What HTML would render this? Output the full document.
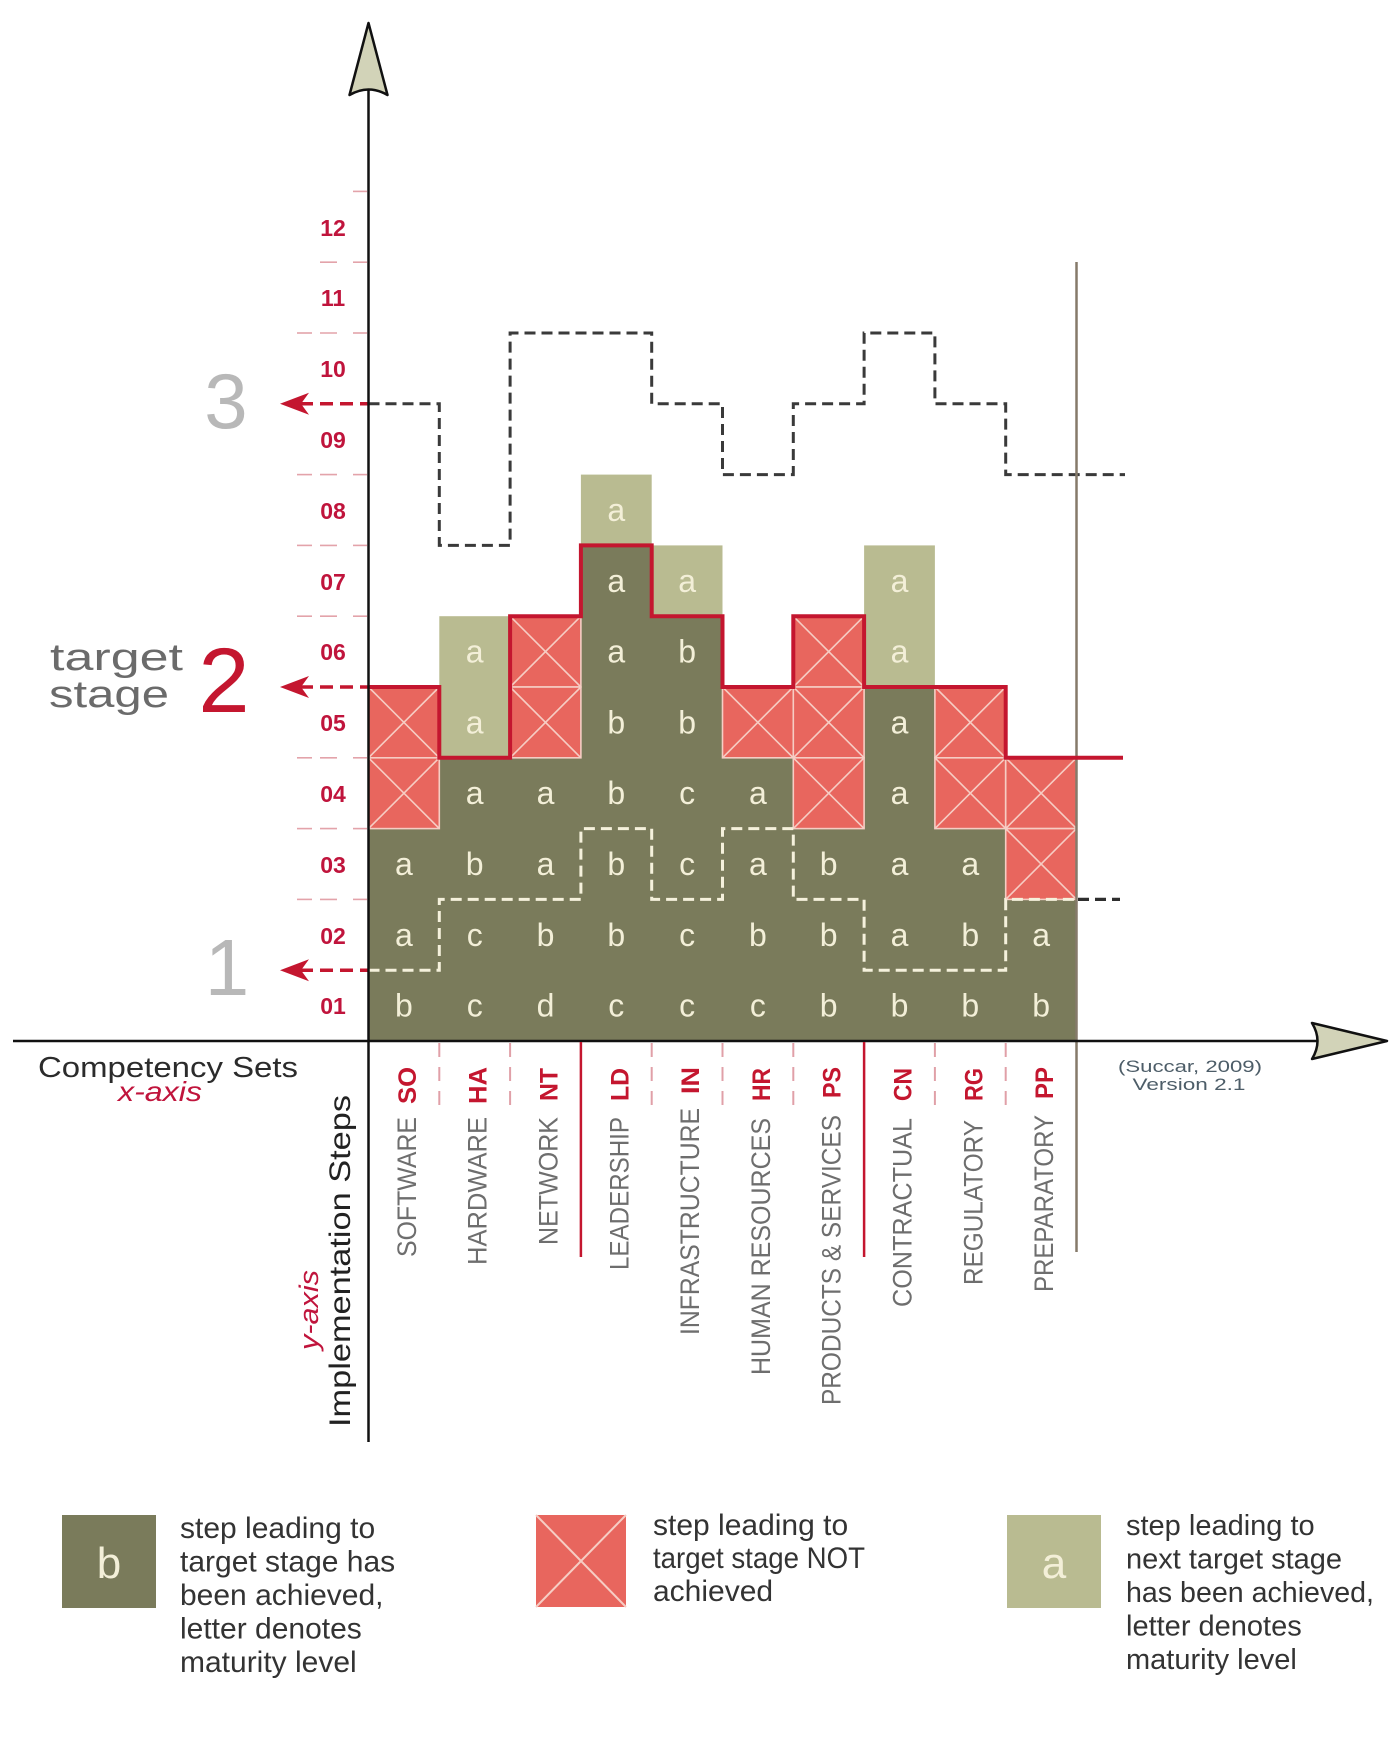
<!DOCTYPE html>
<html>
<head>
<meta charset="utf-8">
<style>
html,body{margin:0;padding:0;background:#fff;}
svg{display:block;}
text{font-family:"Liberation Sans",sans-serif;}
</style>
</head>
<body>
<svg width="1394" height="1757" viewBox="0 0 1394 1757" xmlns="http://www.w3.org/2000/svg">
<rect x="0" y="0" width="1394" height="1757" fill="#ffffff"/>

<!-- pink tick dashes left of y-axis -->
<g stroke="#e3a3aa" stroke-width="1.6">
  <line x1="353" y1="191.4" x2="367" y2="191.4"/>
  <line x1="320" y1="262.2" x2="337" y2="262.2"/><line x1="353" y1="262.2" x2="367" y2="262.2"/>
  <line x1="297" y1="333" x2="312" y2="333"/><line x1="320" y1="333" x2="337" y2="333"/><line x1="353" y1="333" x2="367" y2="333"/>
  <line x1="297" y1="474.6" x2="312" y2="474.6"/><line x1="320" y1="474.6" x2="337" y2="474.6"/><line x1="353" y1="474.6" x2="367" y2="474.6"/>
  <line x1="297" y1="545.4" x2="312" y2="545.4"/><line x1="320" y1="545.4" x2="337" y2="545.4"/><line x1="353" y1="545.4" x2="367" y2="545.4"/>
  <line x1="297" y1="616.2" x2="312" y2="616.2"/><line x1="320" y1="616.2" x2="337" y2="616.2"/><line x1="353" y1="616.2" x2="367" y2="616.2"/>
  <line x1="297" y1="757.8" x2="312" y2="757.8"/><line x1="320" y1="757.8" x2="337" y2="757.8"/><line x1="353" y1="757.8" x2="367" y2="757.8"/>
  <line x1="297" y1="828.6" x2="312" y2="828.6"/><line x1="320" y1="828.6" x2="337" y2="828.6"/><line x1="353" y1="828.6" x2="367" y2="828.6"/>
  <line x1="297" y1="899.4" x2="312" y2="899.4"/><line x1="320" y1="899.4" x2="337" y2="899.4"/><line x1="353" y1="899.4" x2="367" y2="899.4"/>
</g>

<!-- tick labels -->
<g font-weight="bold" font-size="23" fill="#c0143c" text-anchor="middle">
  <text x="333" y="236">12</text>
  <text x="333" y="306">11</text>
  <text x="333" y="377">10</text>
  <text x="333" y="448">09</text>
  <text x="333" y="519">08</text>
  <text x="333" y="590">07</text>
  <text x="333" y="660">06</text>
  <text x="333" y="731">05</text>
  <text x="333" y="802">04</text>
  <text x="333" y="873">03</text>
  <text x="333" y="944">02</text>
  <text x="333" y="1014">01</text>
</g>

<!-- olive region -->
<path d="M368.5,1041 V828.6 H439.3 V757.8 H580.9 V545.4 H651.7 V616.2 H722.5 V757.8 H793.3 V828.6 H864.1 V687 H934.9 V828.6 H1005.7 V899.4 H1076.5 V1041 Z" fill="#7a7b5b"/>

<!-- light cells -->
<g fill="#b9bb91">
  <rect x="439.3" y="616.2" width="70.8" height="141.6"/>
  <rect x="580.9" y="474.6" width="70.8" height="70.8"/>
  <rect x="651.7" y="545.4" width="70.8" height="70.8"/>
  <rect x="864.1" y="545.4" width="70.8" height="141.6"/>
</g>

<!-- red X cells -->
<defs>
  <g id="xc">
    <rect x="0" y="0" width="70.8" height="70.8" fill="#e8665e" stroke="#f6cdc4" stroke-width="1.6"/>
    <line x1="0" y1="0" x2="70.8" y2="70.8" stroke="#f6cdc4" stroke-width="1.6"/>
    <line x1="70.8" y1="0" x2="0" y2="70.8" stroke="#f6cdc4" stroke-width="1.6"/>
  </g>
</defs>
<use href="#xc" x="368.5" y="687"/>
<use href="#xc" x="368.5" y="757.8"/>
<use href="#xc" x="510.1" y="616.2"/>
<use href="#xc" x="510.1" y="687"/>
<use href="#xc" x="722.5" y="687"/>
<use href="#xc" x="793.3" y="616.2"/>
<use href="#xc" x="793.3" y="687"/>
<use href="#xc" x="793.3" y="757.8"/>
<use href="#xc" x="934.9" y="687"/>
<use href="#xc" x="934.9" y="757.8"/>
<use href="#xc" x="1005.7" y="757.8"/>
<use href="#xc" x="1005.7" y="828.6"/>

<!-- cell letters -->
<g font-size="32" fill="#f3efd8" text-anchor="middle">
  <text x="403.9" y="1016.6">b</text><text x="403.9" y="945.8">a</text><text x="403.9" y="875">a</text>
  <text x="474.7" y="1016.6">c</text><text x="474.7" y="945.8">c</text><text x="474.7" y="875">b</text><text x="474.7" y="804.2">a</text><text x="474.7" y="733.4">a</text><text x="474.7" y="662.6">a</text>
  <text x="545.5" y="1016.6">d</text><text x="545.5" y="945.8">b</text><text x="545.5" y="875">a</text><text x="545.5" y="804.2">a</text>
  <text x="616.3" y="1016.6">c</text><text x="616.3" y="945.8">b</text><text x="616.3" y="875">b</text><text x="616.3" y="804.2">b</text><text x="616.3" y="733.4">b</text><text x="616.3" y="662.6">a</text><text x="616.3" y="591.8">a</text><text x="616.3" y="521">a</text>
  <text x="687.1" y="1016.6">c</text><text x="687.1" y="945.8">c</text><text x="687.1" y="875">c</text><text x="687.1" y="804.2">c</text><text x="687.1" y="733.4">b</text><text x="687.1" y="662.6">b</text><text x="687.1" y="591.8">a</text>
  <text x="757.9" y="1016.6">c</text><text x="757.9" y="945.8">b</text><text x="757.9" y="875">a</text><text x="757.9" y="804.2">a</text>
  <text x="828.7" y="1016.6">b</text><text x="828.7" y="945.8">b</text><text x="828.7" y="875">b</text>
  <text x="899.5" y="1016.6">b</text><text x="899.5" y="945.8">a</text><text x="899.5" y="875">a</text><text x="899.5" y="804.2">a</text><text x="899.5" y="733.4">a</text><text x="899.5" y="662.6">a</text><text x="899.5" y="591.8">a</text>
  <text x="970.3" y="1016.6">b</text><text x="970.3" y="945.8">b</text><text x="970.3" y="875">a</text>
  <text x="1041.1" y="1016.6">b</text><text x="1041.1" y="945.8">a</text>
</g>

<!-- white dashed (stage 1) -->
<path d="M368.5,970.2 H439.3 V899.4 H580.9 V828.6 H651.7 V899.4 H722.5 V828.6 H793.3 V899.4 H864.1 V970.2 H1005.7 V899.4 H1076.5" fill="none" stroke="#f5f1dc" stroke-width="3" stroke-dasharray="11 6"/>
<line x1="1078" y1="899.4" x2="1120" y2="899.4" stroke="#2e2e2e" stroke-width="3.2" stroke-dasharray="11 6"/>

<!-- black dashed (stage 3) -->
<path d="M368.5,403.8 H439.3 V545.4 H510.1 V333 H651.7 V403.8 H722.5 V474.6 H793.3 V403.8 H864.1 V333 H934.9 V403.8 H1005.7 V474.6 H1125" fill="none" stroke="#3a3a3a" stroke-width="3" stroke-dasharray="11 6"/>

<!-- brown vertical -->
<line x1="1076.5" y1="262" x2="1076.5" y2="1252" stroke="#857a6a" stroke-width="2.5"/>

<!-- red line (stage 2) -->
<path d="M368.5,687 H439.3 V757.8 H510.1 V616.2 H580.9 V545.4 H651.7 V616.2 H722.5 V687 H793.3 V616.2 H864.1 V687 H1005.7 V757.8 H1123" fill="none" stroke="#c4162f" stroke-width="4" stroke-linejoin="miter"/>

<!-- red dashed arrows -->
<g stroke="#c4162f" stroke-width="3.5" stroke-dasharray="13 7">
  <line x1="300" y1="403.8" x2="368" y2="403.8"/>
  <line x1="300" y1="687" x2="368" y2="687"/>
  <line x1="300" y1="970.2" x2="368" y2="970.2"/>
</g>
<g fill="#c4162f">
  <path d="M280,403.8 L309,392.8 L301,403.8 L309,414.8 Z"/>
  <path d="M280,687 L309,676 L301,687 L309,698 Z"/>
  <path d="M280,970.2 L309,959.2 L301,970.2 L309,981.2 Z"/>
</g>

<!-- stage numbers -->
<text x="226" y="428" font-size="78" fill="#b8b8b8" text-anchor="middle">3</text>
<text x="224" y="712" font-size="92" fill="#c4162f" text-anchor="middle">2</text>
<text x="227" y="995" font-size="80" fill="#b8b8b8" text-anchor="middle">1</text>
<text x="50" y="670" font-size="38" fill="#6b6b6b" textLength="133" lengthAdjust="spacingAndGlyphs">target</text>
<text x="49" y="707" font-size="38" fill="#6b6b6b" textLength="120" lengthAdjust="spacingAndGlyphs">stage</text>

<!-- axes -->
<line x1="368.5" y1="90" x2="368.5" y2="1442" stroke="#111" stroke-width="2.5"/>
<line x1="13" y1="1041" x2="1318" y2="1041" stroke="#111" stroke-width="2.5"/>
<path d="M368.5,23 L387.5,95 Q368.5,84 349.5,95 Z" fill="#d2d3b8" stroke="#111" stroke-width="2.5" stroke-linejoin="round"/>
<path d="M1387,1041 L1312,1059 Q1323,1041 1312,1023 Z" fill="#d2d3b8" stroke="#111" stroke-width="2.5" stroke-linejoin="round"/>

<!-- separators below x-axis -->
<g stroke="#c4162f" stroke-width="2.5">
  <line x1="580.9" y1="1042" x2="580.9" y2="1257"/>
  <line x1="864.1" y1="1042" x2="864.1" y2="1257"/>
</g>
<g stroke="#e0a0a8" stroke-width="2" stroke-dasharray="14 10">
  <line x1="439.3" y1="1043" x2="439.3" y2="1112"/>
  <line x1="510.1" y1="1043" x2="510.1" y2="1112"/>
  <line x1="651.7" y1="1043" x2="651.7" y2="1112"/>
  <line x1="722.5" y1="1043" x2="722.5" y2="1112"/>
  <line x1="793.3" y1="1043" x2="793.3" y2="1112"/>
  <line x1="934.9" y1="1043" x2="934.9" y2="1112"/>
  <line x1="1005.7" y1="1043" x2="1005.7" y2="1112"/>
</g>

<!-- column labels -->
<g font-size="27" fill="#6e6e6e">
  <text transform="translate(416,1257) rotate(-90)" textLength="140" lengthAdjust="spacingAndGlyphs">SOFTWARE</text>
  <text transform="translate(486.7,1265) rotate(-90)" textLength="148" lengthAdjust="spacingAndGlyphs">HARDWARE</text>
  <text transform="translate(557.5,1245) rotate(-90)" textLength="128" lengthAdjust="spacingAndGlyphs">NETWORK</text>
  <text transform="translate(628.3,1270) rotate(-90)" textLength="153" lengthAdjust="spacingAndGlyphs">LEADERSHIP</text>
  <text transform="translate(699.1,1335) rotate(-90)" textLength="227" lengthAdjust="spacingAndGlyphs">INFRASTRUCTURE</text>
  <text transform="translate(769.9,1375) rotate(-90)" textLength="257" lengthAdjust="spacingAndGlyphs">HUMAN RESOURCES</text>
  <text transform="translate(840.7,1405) rotate(-90)" textLength="290" lengthAdjust="spacingAndGlyphs">PRODUCTS &amp; SERVICES</text>
  <text transform="translate(911.5,1307) rotate(-90)" textLength="189" lengthAdjust="spacingAndGlyphs">CONTRACTUAL</text>
  <text transform="translate(982.3,1285) rotate(-90)" textLength="165" lengthAdjust="spacingAndGlyphs">REGULATORY</text>
  <text transform="translate(1053.1,1292) rotate(-90)" textLength="177" lengthAdjust="spacingAndGlyphs">PREPARATORY</text>
</g>
<g font-size="25" font-weight="bold" fill="#c4162f">
  <text transform="translate(416,1104) rotate(-90)" textLength="37" lengthAdjust="spacingAndGlyphs">SO</text>
  <text transform="translate(486.7,1104) rotate(-90)" textLength="37" lengthAdjust="spacingAndGlyphs">HA</text>
  <text transform="translate(557.5,1101) rotate(-90)" textLength="33" lengthAdjust="spacingAndGlyphs">NT</text>
  <text transform="translate(628.3,1101) rotate(-90)" textLength="33" lengthAdjust="spacingAndGlyphs">LD</text>
  <text transform="translate(699.1,1094) rotate(-90)" textLength="27" lengthAdjust="spacingAndGlyphs">IN</text>
  <text transform="translate(769.9,1101) rotate(-90)" textLength="33" lengthAdjust="spacingAndGlyphs">HR</text>
  <text transform="translate(840.7,1098) rotate(-90)" textLength="31" lengthAdjust="spacingAndGlyphs">PS</text>
  <text transform="translate(911.5,1101) rotate(-90)" textLength="33" lengthAdjust="spacingAndGlyphs">CN</text>
  <text transform="translate(982.3,1101) rotate(-90)" textLength="33" lengthAdjust="spacingAndGlyphs">RG</text>
  <text transform="translate(1053.1,1099) rotate(-90)" textLength="32" lengthAdjust="spacingAndGlyphs">PP</text>
</g>

<!-- axis titles -->
<text x="38" y="1077" font-size="29" fill="#2b2b2b" textLength="260" lengthAdjust="spacingAndGlyphs">Competency Sets</text>
<text x="118" y="1101" font-size="28" font-style="italic" fill="#c0143c" textLength="84" lengthAdjust="spacingAndGlyphs">x-axis</text>
<text transform="translate(350,1427) rotate(-90)" font-size="30" fill="#222" textLength="332" lengthAdjust="spacingAndGlyphs">Implementation Steps</text>
<text transform="translate(318,1350) rotate(-90)" font-size="27" font-style="italic" fill="#c0143c" textLength="80" lengthAdjust="spacingAndGlyphs">y-axis</text>

<!-- credit -->
<text x="1190" y="1072" font-size="17" fill="#4d5d68" text-anchor="middle" textLength="144" lengthAdjust="spacingAndGlyphs">(Succar, 2009)</text>
<text x="1189" y="1090" font-size="17" fill="#4d5d68" text-anchor="middle" textLength="113" lengthAdjust="spacingAndGlyphs">Version 2.1</text>

<!-- legend -->
<rect x="62" y="1515" width="94" height="93" fill="#7a7b5b"/>
<text x="109" y="1578" font-size="44" fill="#f3efd8" text-anchor="middle">b</text>
<g font-size="30" fill="#333">
  <text x="180" y="1538">step leading to</text>
  <text x="180" y="1571.5">target stage has</text>
  <text x="180" y="1605">been achieved,</text>
  <text x="180" y="1638.5">letter denotes</text>
  <text x="180" y="1672">maturity level</text>
</g>

<g transform="translate(536,1515)">
  <rect x="0" y="0" width="90" height="92" fill="#e8665e"/>
  <line x1="0" y1="0" x2="90" y2="92" stroke="#f6cdc4" stroke-width="2"/>
  <line x1="90" y1="0" x2="0" y2="92" stroke="#f6cdc4" stroke-width="2"/>
</g>
<g font-size="30" fill="#333">
  <text x="653" y="1535">step leading to</text>
  <text x="653" y="1568" textLength="212" lengthAdjust="spacingAndGlyphs">target stage NOT</text>
  <text x="653" y="1601">achieved</text>
</g>

<rect x="1007" y="1515" width="94" height="93" fill="#b9bb91"/>
<text x="1054" y="1578" font-size="44" fill="#f3efd8" text-anchor="middle">a</text>
<g font-size="29" fill="#333">
  <text x="1126" y="1535">step leading to</text>
  <text x="1126" y="1568.5">next target stage</text>
  <text x="1126" y="1602" textLength="248" lengthAdjust="spacingAndGlyphs">has been achieved,</text>
  <text x="1126" y="1635.5">letter denotes</text>
  <text x="1126" y="1669">maturity level</text>
</g>
</svg>
</body>
</html>
